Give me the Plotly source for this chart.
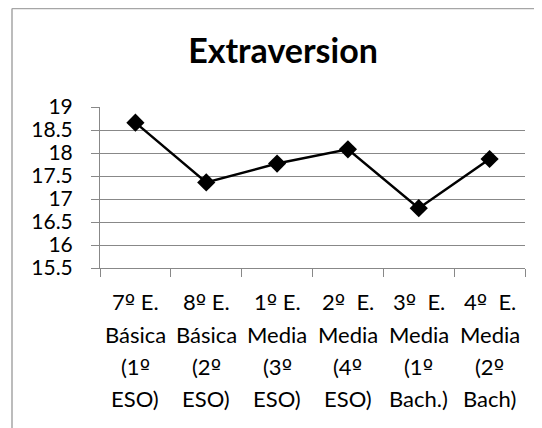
import plotly.graph_objects as go

title = "Extraversion"
categories = ["7º E. Básica (1º ESO)", "8º E. Básica (2º ESO)", "1º E. Media (3º ESO)",
              "2º E. Media (4º ESO)", "3º E. Media (1º Bach.)", "4º E. Media (2º Bach)"]
label_lines = [
    ["7º E.", "Básica", "(1º", "ESO)"],
    ["8º E.", "Básica", "(2º", "ESO)"],
    ["1º E.", "Media", "(3º", "ESO)"],
    ["2º\u00a0 E.", "Media", "(4º", "ESO)"],
    ["3º\u00a0 E.", "Media", "(1º", "Bach.)"],
    ["4º\u00a0 E.", "Media", "(2º", "Bach)"],
]
values = [18.66, 17.36, 17.77, 18.08, 16.80, 17.87]
y_ticks = [15.5, 16, 16.5, 17, 17.5, 18, 18.5, 19]

FONT = "Lato"
W, H = 534, 420
L, R, T, B = 92, 17, 99, 160
PW, PH = W - L - R, H - T - B


def fix_ordinal(s):
    return s.replace("º", '<span style="font-family:\'DejaVu Sans\'">º</span>')


fig = go.Figure()
fig.add_trace(go.Scatter(
    x=categories, y=values, mode="lines+markers",
    line=dict(color="black", width=2.5),
    marker=dict(symbol="diamond", size=14, color="black"),
    showlegend=False, cliponaxis=False,
))

annotations = []
line_shifts = [-33, -66, -98, -130]
for cat, lines in zip(categories, label_lines):
    for ln, shift in zip(lines, line_shifts):
        annotations.append(dict(
            text=fix_ordinal(ln), x=cat, xref="x", y=0, yref="paper", yanchor="middle",
            yshift=shift, showarrow=False,
            font=dict(family=FONT, size=22, color="black"),
        ))

border = "#a6a6a6"
fig.update_layout(
    width=W, height=H,
    margin=dict(l=L, r=R, t=T, b=B),
    paper_bgcolor="white", plot_bgcolor="white",
    title=dict(text=f"<b>{title}</b>", x=275 / W, xanchor="center",
               y=1 - 43 / H, yanchor="middle",
               font=dict(family=FONT, size=34, color="black")),
    xaxis=dict(
        type="category", showticklabels=False, tickson="boundaries",
        ticks="outside", ticklen=8, tickcolor="#888888",
        showline=True, linecolor="#888888", linewidth=1,
        showgrid=False, range=[-0.5, 5.5],
    ),
    yaxis=dict(
        range=[15.5, 19], tickvals=y_ticks, ticktext=[f"{v:g}" for v in y_ticks],
        ticks="outside", ticklen=8, tickcolor="#888888",
        ticklabelstandoff=14,
        showline=True, linecolor="#888888", linewidth=1,
        showgrid=True, gridcolor="#888888", gridwidth=1,
        tickfont=dict(family=FONT, size=21, color="black"),
        zeroline=False,
    ),
    annotations=annotations,
    shapes=[
        dict(type="line", xref="paper", yref="paper",
             x0=(4 - L) / PW, x1=(4 - L) / PW, y0=-2, y1=1 + (T - 0.5) / PH,
             line=dict(color=border, width=1.5)),
        dict(type="line", xref="paper", yref="paper",
             x0=(4 - L) / PW, x1=2, y0=1 + (T - 0.5) / PH, y1=1 + (T - 0.5) / PH,
             line=dict(color=border, width=1.5)),
    ],
)

fig.write_html("out.html")
